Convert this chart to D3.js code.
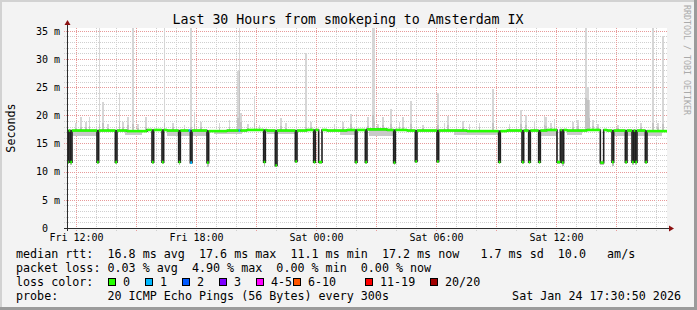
<!DOCTYPE html>
<html lang="en">
<head>
<meta charset="UTF-8" />
<title>Last 30 Hours from smokeping to Amsterdam IX</title>
<script src="https://d3js.org/d3.v7.min.js"></script>
<style>
  body { margin: 0; background: #fff; }
  svg { display: block; font-family: "DejaVu Sans Mono", monospace; }
</style>
</head>
<body>
<svg id="chart" width="697" height="310"></svg>
<script>
// 5 minute steps, step 0 = Fri Jan 23 2026 11:33
const startTime = new Date(2026, 0, 23, 11, 33);
const stepCount = 360;

// median rtt (ms) per hour
const hourlyMedian = [17.3, 17.3, 17.3, 17.2, 17.4, 17.3, 17.3, 17.2, 17.3, 17.4,
                      17.3, 17.3, 17.4, 17.3, 17.4, 17.5, 17.4, 17.3, 17.3, 17.3,
                      17.2, 17.2, 17.3, 17.3, 17.4, 17.3, 17.4, 17.3, 17.3, 17.2];

// drops of the median: [step, steps wide, median ms, lowest smoke ms]
const dips = [
  [0, 1, 11.7, 11.3], [2, 1, 11.7, 11.2], [18, 1, 11.7, 11.3], [29, 1, 11.7, 11.4],
  [51, 1, 11.7, 11.3], [57, 1, 11.7, 11.3], [67, 1, 11.7, 11.2], [74, 1, 11.6, 11.3],
  [84, 1, 11.6, 10.9], [118, 1, 11.7, 10.9], [125, 1, 11.1, 10.8], [137, 1, 11.8, 11.5],
  [148, 1, 11.7, 11.4], [151, 2, 11.7, 11.4], [173, 1, 11.7, 11.4], [179, 1, 11.7, 11.4],
  [196, 1, 11.6, 11.2], [209, 1, 11.8, 11.5], [222, 1, 11.8, 11.5], [259, 1, 11.7, 11.4],
  [273, 1, 11.7, 11.4], [277, 1, 11.7, 11.3], [283, 1, 11.7, 11.4], [294, 2, 11.7, 11.3],
  [297, 1, 11.6, 11.0], [320, 2, 11.6, 11.1], [327, 1, 11.7, 11.0], [335, 1, 11.7, 11.3],
  [339, 1, 11.7, 11.1], [341, 1, 11.7, 11.2], [347, 1, 11.7, 11.4]
];

// steps where 1 of 20 pings was lost
const lossSteps = [73, 74, 103];

// smoke above the median: [step, highest ping ms, dense part ms]
const spikes = [
  [5, 18.6, 17.8], [8, 19.7, 18.0], [11, 18.9, 17.9], [13, 19.7, 18.1], [19, 35.5, 18.5],
  [21, 22.4, 18.6], [24, 18.4, 17.8], [31, 24.0, 18.8], [33, 18.8, 17.9], [36, 19.7, 18.2],
  [39, 35.5, 18.4], [42, 18.5, 17.8], [47, 19.7, 18.0], [58, 35.5, 18.6], [63, 18.7, 17.9],
  [70, 18.3, 17.8], [74, 35.5, 17.9], [76, 20.6, 18.4], [80, 18.9, 17.9], [91, 18.6, 17.8],
  [97, 19.1, 18.0], [102, 27.8, 19.5], [103, 35.5, 27.8], [104, 20.5, 18.8], [108, 18.4, 17.8],
  [112, 23.4, 18.7], [115, 18.2, 17.7], [128, 19.6, 18.1], [131, 18.6, 17.8], [143, 31.0, 18.0],
  [146, 18.8, 17.9], [160, 18.4, 17.8], [165, 18.9, 17.9], [170, 20.3, 18.4], [180, 19.7, 18.1],
  [183, 35.5, 20.0], [184, 35.5, 19.0], [186, 18.5, 17.9], [189, 19.7, 18.2], [194, 21.2, 18.4],
  [199, 18.8, 17.9], [201, 19.7, 18.0], [206, 22.5, 18.5], [213, 18.3, 17.8], [222, 24.0, 18.3],
  [226, 18.6, 17.8], [228, 19.8, 18.2], [237, 19.0, 18.0], [241, 18.4, 17.8], [247, 18.7, 17.9],
  [255, 24.7, 18.6], [265, 18.5, 17.8], [272, 21.0, 18.4], [275, 20.0, 18.2], [280, 18.9, 17.9],
  [286, 19.9, 18.2], [287, 19.7, 18.1], [290, 18.6, 17.8], [292, 19.4, 18.0], [303, 18.8, 17.9],
  [306, 19.1, 18.1], [311, 35.5, 23.0], [312, 25.1, 22.7], [313, 22.7, 19.5], [315, 19.1, 18.1],
  [318, 18.5, 17.9], [330, 18.3, 17.8], [344, 18.6, 17.9], [351, 35.5, 18.6], [354, 18.7, 17.9],
  [357, 34.0, 18.4]
];

// smoke below the median: [from step, to step, lowest ping ms]
const lowBands = [
  [2, 18, 16.4], [35, 44, 16.5], [60, 84, 16.4], [88, 104, 16.6], [120, 136, 16.6],
  [164, 172, 16.5], [181, 196, 16.4], [232, 258, 16.5], [284, 294, 16.4], [300, 308, 16.5],
  [328, 356, 16.3]
];

const yTicks = [0, 5, 10, 15, 20, 25, 30, 35];
const xLabelTimes = [
  new Date(2026, 0, 23, 12), new Date(2026, 0, 23, 18), new Date(2026, 0, 24, 0),
  new Date(2026, 0, 24, 6), new Date(2026, 0, 24, 12)
];

const lossLegend = [
  ["0", "#26ff00"], ["1", "#00b8ff"], ["2", "#0059ff"], ["3", "#7e00ff"],
  ["4-5", "#ff00ff"], ["6-10", "#ff5500"], ["11-19", "#ff0000"], ["20/20", "#a10000"]
];
const legendLines = [
  "median rtt:  16.8 ms avg  17.6 ms max  11.1 ms min  17.2 ms now   1.7 ms sd  10.0   am/s",
  "packet loss: 0.03 % avg  4.90 % max  0.00 % min  0.00 % now",
  "loss color:",
  "probe:       20 ICMP Echo Pings (56 Bytes) every 300s"
];
const titleText = "Last 30 Hours from smokeping to Amsterdam IX";
const stampText = "Sat Jan 24 17:30:50 2026";

// ---- layout ----
const W = 697, H = 310;
const boxX = [108.5, 145.5, 182.5, 219.5, 256.5, 293.5, 365.5, 430.5];
const svg = d3.select("#chart");
const mono = "DejaVu Sans Mono";
const stepTime = i => new Date(startTime.getTime() + i * 300000);

const x = d3.scaleTime().domain([startTime, stepTime(stepCount)]).range([67, 667]);
const y = d3.scaleLinear().domain([0, 35.5]).range([228, 28]);
const px = v => Math.round(v) + 0.5;

// background and frame
svg.append("rect").attr("width", W).attr("height", H).attr("fill", "#f3f3f3");
svg.append("rect").attr("width", W).attr("height", 2).attr("fill", "#d2d2d2");
svg.append("rect").attr("width", 2).attr("height", H).attr("fill", "#d2d2d2");
svg.append("rect").attr("x", W - 3).attr("width", 3).attr("height", H).attr("fill", "#9b9b9b");
svg.append("rect").attr("y", H - 3).attr("width", W).attr("height", 3).attr("fill", "#9b9b9b");
svg.append("rect").attr("x", 67).attr("y", 28).attr("width", 600).attr("height", 200).attr("fill", "#fff");

// grid
const grid = svg.append("g").attr("stroke-dasharray", "1,1").attr("stroke-width", 1);
d3.range(1, 36).forEach(v => {
  grid.append("line").attr("x1", 64).attr("x2", 667).attr("y1", px(y(v))).attr("y2", px(y(v)))
    .attr("stroke", v % 5 === 0 ? "#e79a9a" : "#cfcfcf");
});
const majorHours = x.ticks(d3.timeHour.every(3)).map(d => +d);
x.ticks(d3.timeHour.every(1)).forEach(t => {
  grid.append("line").attr("x1", px(x(t))).attr("x2", px(x(t))).attr("y1", 28).attr("y2", 231)
    .attr("stroke", majorHours.includes(+t) ? "#e79a9a" : "#cfcfcf");
});

// build median series from the hourly values and the dips
const median = d3.range(stepCount).map(i => hourlyMedian[Math.floor(i / 12)]);
const lowest = median.slice();
dips.forEach(([s, w, v, lo]) => {
  for (let k = 0; k < w; k++) { median[s + k] = v; lowest[s + k] = lo; }
});
lowBands.forEach(([a, b, lo]) => {
  for (let i = a; i <= b; i++) if (median[i] > 15) lowest[i] = Math.min(lowest[i], lo);
});

// smoke
const smoke = svg.append("g").attr("shape-rendering", "crispEdges");
d3.range(stepCount).forEach(i => {
  if (lowest[i] < median[i]) {
    smoke.append("rect").attr("x", x(stepTime(i))).attr("width", x(stepTime(i + 1)) - x(stepTime(i)))
      .attr("y", y(median[i])).attr("height", y(lowest[i]) - y(median[i]))
      .attr("fill", median[i] > 15 ? "#c9c9c9" : "#bdbdbd");
  }
});
spikes.forEach(([s, hi, mid]) => {
  const x0 = x(stepTime(s)), w = x(stepTime(s + 1)) - x0;
  smoke.append("rect").attr("x", x0).attr("width", w)
    .attr("y", y(hi)).attr("height", y(median[s]) - y(hi)).attr("fill", "#d6d6d6");
  smoke.append("rect").attr("x", x0).attr("width", w)
    .attr("y", y(mid)).attr("height", y(median[s]) - y(mid)).attr("fill", "#c2c2c2");
});

// median: dark step line, then loss coloured horizontal pieces
const line = d3.line().x((d, i) => x(stepTime(i))).y(d => y(d)).curve(d3.curveStepAfter);
svg.append("path").datum(median.concat([median[stepCount - 1]]))
  .attr("d", line).attr("fill", "none").attr("stroke", "#202020").attr("stroke-width", 1.6);

const runs = [];
median.forEach((v, i) => {
  const c = lossSteps.includes(i) ? lossLegend[1][1] : lossLegend[0][1];
  const last = runs[runs.length - 1];
  if (last && last.v === v && last.c === c) last.b = i + 1;
  else runs.push({ a: i, b: i + 1, v, c });
});
svg.append("g").selectAll("line").data(runs).join("line")
  .attr("x1", d => x(stepTime(d.a))).attr("x2", d => x(stepTime(d.b)))
  .attr("y1", d => y(d.v)).attr("y2", d => y(d.v))
  .attr("stroke", d => d.c).attr("stroke-width", 2.6);

// axes
const yAxis = svg.append("g").attr("transform", "translate(67,0)")
  .call(d3.axisLeft(y).tickValues(yTicks).tickSize(0).tickPadding(7)
    .tickFormat(d => d ? d + "\u00a0m" : "0"));
yAxis.select(".domain").remove();
yAxis.attr("font-family", mono).attr("font-size", 10);
yAxis.selectAll("text").attr("fill", "#000")
  .attr("dx", d => d ? 0 : -12);

const xAxis = svg.append("g").attr("transform", "translate(0,228)")
  .call(d3.axisBottom(x).tickValues(xLabelTimes).tickSize(0).tickPadding(5.5)
    .tickFormat(d3.timeFormat("%a %H:%M")));
xAxis.select(".domain").remove();
xAxis.attr("font-family", mono).attr("font-size", 10);
xAxis.selectAll("text").attr("fill", "#000");

const [xl, xr] = x.range(), [yb, yt] = y.range();
svg.append("line").attr("x1", xl - 3).attr("x2", xr + 4).attr("y1", yb + 0.5).attr("y2", yb + 0.5)
  .attr("stroke", "#2c2c2c");
svg.append("line").attr("x1", xl + 0.5).attr("x2", xl + 0.5).attr("y1", yb + 3).attr("y2", yt - 4)
  .attr("stroke", "#2c2c2c");
svg.append("path").attr("d", `M${xr + 2},${yb - 2.5}L${xr + 7},${yb + 0.5}L${xr + 2},${yb + 3.5}Z`)
  .attr("fill", "#8b1010");
svg.append("path").attr("d", `M${xl - 2.5},${yt - 3}L${xl + 0.5},${yt - 8}L${xl + 3.5},${yt - 3}Z`)
  .attr("fill", "#8b1010");

// titles
svg.append("text").attr("x", 348).attr("y", 24).attr("text-anchor", "middle")
  .attr("font-family", mono).attr("font-size", 13.25).text(titleText);
svg.append("text").attr("transform", "translate(14.5,128) rotate(-90)").attr("text-anchor", "middle")
  .attr("font-family", mono).attr("font-size", 11.7).text("Seconds");
svg.append("text").attr("transform", "translate(683.5,5) rotate(90)")
  .attr("font-family", mono).attr("font-size", 8.3).attr("fill", "#aaaaaa").text("RRDTOOL / TOBI OETIKER");

// legend
const legend = svg.append("g").attr("font-family", mono).attr("font-size", 11.7);
legendLines.forEach((s, i) => {
  legend.append("text").attr("x", 16).attr("y", 257.5 + i * 14.2)
    .text(s.replace(/ /g, "\u00a0"));
});
lossLegend.forEach(([label, color], i) => {
  legend.append("rect").attr("x", boxX[i]).attr("y", 278.5).attr("width", 7).attr("height", 7)
    .attr("fill", color).attr("stroke", "#000").attr("stroke-width", 1);
  legend.append("text").attr("x", boxX[i] + 14.5).attr("y", 257.5 + 2 * 14.2).text(label);
});
legend.append("text").attr("x", 681).attr("y", 257.5 + 3 * 14.2).attr("text-anchor", "end").text(stampText);
</script>
</body>
</html>
